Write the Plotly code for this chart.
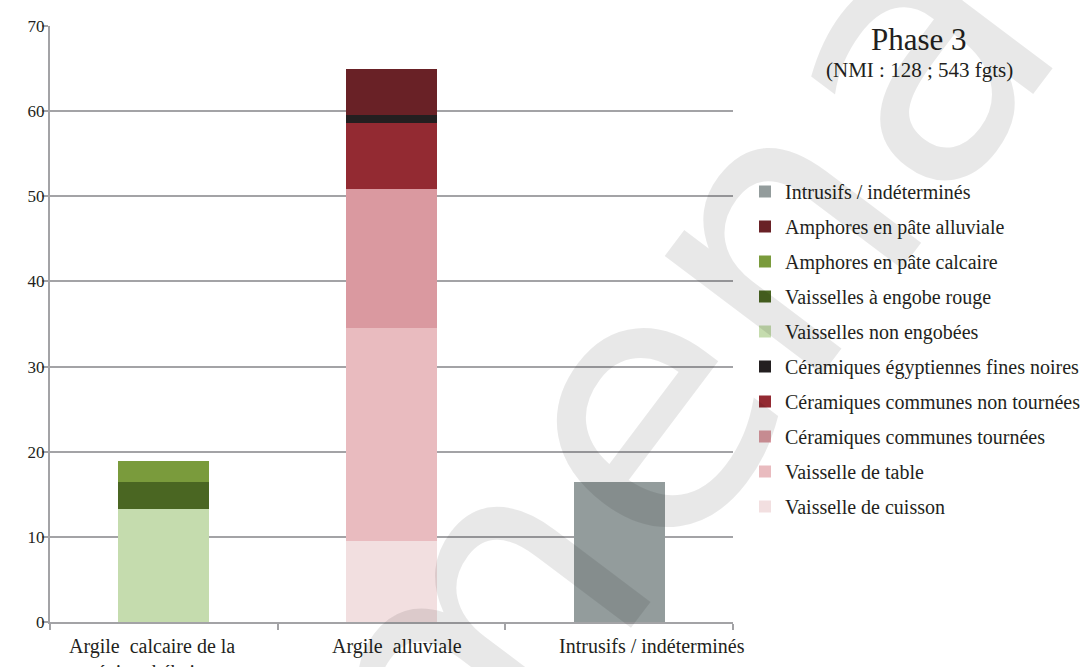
import plotly.graph_objects as go

# Categories on the x axis
categories = [
    "Argile  calcaire de la<br>région thébaine",
    "Argile  alluviale",
    "Intrusifs / indéterminés",
]
# Horizontal nudge of each category label (px)
label_shift = [-12, 5, 33]

# Percentages of the NMI for each ware, per fabric group (stack order, bottom to top)
vaisselle_cuisson = [0, 9.5, 0]
vaisselle_table = [0, 25.0, 0]
communes_tournees = [0, 16.4, 0]
communes_non_tournees = [0, 7.7, 0]
egyptiennes_fines_noires = [0, 0.9, 0]
vaisselles_non_engobees = [13.3, 0, 0]
vaisselles_engobe_rouge = [3.1, 0, 0]
amphores_calcaire = [2.5, 0, 0]
amphores_alluviale = [0, 5.5, 0]
intrusifs = [0, 0, 16.4]

series = [
    ("Vaisselle de cuisson", vaisselle_cuisson, "#f2dfe0"),
    ("Vaisselle de table", vaisselle_table, "#e9bbbf"),
    ("Céramiques communes tournées", communes_tournees, "#da99a0"),
    ("Céramiques communes non tournées", communes_non_tournees, "#932a32"),
    ("Céramiques égyptiennes fines noires", egyptiennes_fines_noires, "#231f20"),
    ("Vaisselles non engobées", vaisselles_non_engobees, "#c5dcae"),
    ("Vaisselles à engobe rouge", vaisselles_engobe_rouge, "#4a6622"),
    ("Amphores en pâte calcaire", amphores_calcaire, "#7a9b3c"),
    ("Amphores en pâte alluviale", amphores_alluviale, "#692126"),
    ("Intrusifs / indéterminés", intrusifs, "#939c9c"),
]

SERIF = "Liberation Serif"
GRID = "#a3a3a6"
INK = "#231f20"

fig = go.Figure()
n = len(series)
for i, (name, vals, color) in enumerate(series):
    fig.add_trace(go.Bar(
        x=categories, y=vals, name=name,
        marker=dict(color=color, line=dict(width=0)),
        legendgroup=f"g{i}", legendrank=n - i,
    ))

fig.update_layout(
    width=1090, height=667,
    margin=dict(l=50, r=357, t=26, b=45, autoexpand=False),
    paper_bgcolor="white", plot_bgcolor="white",
    barmode="stack", bargap=0.6,
    font=dict(family=SERIF, size=16, color=INK),
    showlegend=True,
    legend=dict(
        x=(745 - 50) / 683, y=(622 - 172) / 596, xanchor="left", yanchor="top",
        traceorder="grouped", tracegroupgap=6,
        itemwidth=30, font=dict(family=SERIF, size=20, color=INK),
        bgcolor="rgba(0,0,0,0)",
    ),
)

fig.update_yaxes(
    range=[0, 70], dtick=10, tick0=0,
    showgrid=True, gridcolor=GRID, gridwidth=2,
    showline=True, linecolor=GRID, linewidth=2,
    ticks="outside", ticklen=6, tickcolor=GRID, tickwidth=2,
    zeroline=False, automargin=False, ticklabelstandoff=-6,
    tickfont=dict(family=SERIF, size=17, color=INK),
)
fig.update_xaxes(
    range=[-0.5, len(categories) - 0.5], autorange=False,
    showline=True, linecolor=GRID, linewidth=2,
    ticks="outside", tickson="boundaries", ticklen=6, tickcolor=GRID, tickwidth=2,
    showgrid=False, automargin=False, showticklabels=False,
)

# Category labels under the axis
for cat, dx in zip(categories, label_shift):
    fig.add_annotation(
        text=cat, xref="x", yref="paper", x=cat, y=0,
        xanchor="center", yanchor="top", xshift=dx, yshift=-11,
        showarrow=False, align="center",
        font=dict(family=SERIF, size=20, color=INK),
    )

# Chart title and subtitle at the top right
fig.add_annotation(
    text="Phase 3", xref="paper", yref="paper",
    x=(919 - 50) / 683, y=(622 - 39) / 596, xanchor="center", yanchor="middle",
    showarrow=False, font=dict(family=SERIF, size=31, color=INK),
)
fig.add_annotation(
    text="(NMI : 128 ; 543 fgts)", xref="paper", yref="paper",
    x=(919 - 50) / 683, y=(622 - 70) / 596, xanchor="center", yanchor="middle",
    showarrow=False, font=dict(family=SERIF, size=21, color=INK),
)

# Diagonal watermark drawn over the chart
fig.add_annotation(
    text="mena", xref="paper", yref="paper",
    x=(665 - 50) / 683, y=(622 - 375) / 596, xanchor="center", yanchor="middle",
    showarrow=False, textangle=-53,
    font=dict(family="DejaVu Sans", size=360, color="rgba(0,0,0,0.09)"),
)

fig.write_html("out.html")
